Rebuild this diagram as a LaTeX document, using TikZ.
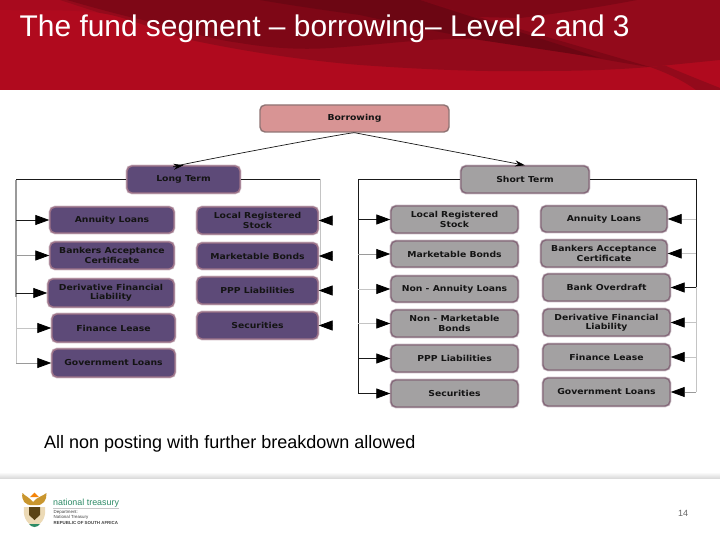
\documentclass[tikz,border=0pt]{standalone}
\usepackage{fontspec}
\setmainfont{Liberation Sans}
\newfontfamily\boxfont[FakeStretch=1.13]{DejaVu Sans}
\usetikzlibrary{arrows.meta}
\definecolor{hdr}{HTML}{B00A1E}
\definecolor{hdrsoft}{HTML}{A80A1E}
\definecolor{hdrmid}{HTML}{930A1B}
\definecolor{hdrdark}{HTML}{7E0716}
\definecolor{hdrdeep}{HTML}{6C0613}
\definecolor{lgfill}{HTML}{5D4A78}
\definecolor{lgedge}{HTML}{9C7288}
\definecolor{stfill}{HTML}{A3A1A2}
\definecolor{stedge}{HTML}{85697A}
\definecolor{rootfill}{HTML}{D89494}
\definecolor{rootedge}{HTML}{8F7474}
\definecolor{ntgreen}{HTML}{2E8B66}
\definecolor{gold}{HTML}{C9962E}
\definecolor{wire}{HTML}{1A1A1A}
\definecolor{wiregray}{HTML}{9A9A9A}
\definecolor{wirelight}{HTML}{C4C4C4}
\tikzset{
  basebox/.style={rounded corners=5pt,align=center,inner sep=0pt,
    font=\boxfont\bfseries\fontsize{8.2}{9.2}\selectfont,text=black!92,line width=1.4pt},
  lgbox/.style={basebox,draw=lgedge,fill=lgfill,preaction={draw=lgedge!45,line width=2.8pt}},
  stbox/.style={basebox,draw=stedge,fill=stfill,preaction={draw=stedge!40,line width=2.8pt}},
  rootbox/.style={basebox,draw=rootedge,fill=rootfill},
  trunk/.style={line width=0.8pt,draw=wire},
  feed/.style={line width=0.8pt,draw=wire,-{Triangle[length=14pt,width=10pt,color=black]}},
  feedgray/.style={feed,draw=wiregray},
  feedlight/.style={feed,draw=wirelight},
  top/.style={line width=0.7pt,draw=wire,-{Stealth[length=10pt,width=6pt,color=black]}},
}
\newcommand{\bx}[7]{\node[#2,minimum width=#5pt-#3pt,minimum height=#6pt-#4pt] (#1) at ({(#3+#5)/2},{(#4+#6)/2}) {#7};}
\begin{document}
\begin{tikzpicture}[x=1pt,y=-1pt]
\useasboundingbox (0,0) rectangle (720,540);
\fill[white] (0,0) rectangle (720,540);
% header
\fill[hdr] (0,0) rectangle (720,90);
\fill[hdrsoft] (0,0) -- (0,10) .. controls (40,10) and (80,10) .. (100,13) -- (150,0) -- cycle;
\fill[hdrmid] (60,0) -- (100,13) .. controls (130,17) and (165,35) .. (200,42) .. controls (250,52) and (300,60) .. (360,65) .. controls (430,70) and (490,72) .. (543,71) .. controls (590,71) and (625,69) .. (650,67) .. controls (680,64) and (700,62) .. (720,60) -- (720,0) -- cycle;
\fill[hdrdark] (67,0) .. controls (95,8) and (120,15) .. (143,20) .. controls (180,30) and (215,40) .. (240,43) .. controls (270,48) and (300,50) .. (330,48) .. controls (390,44) and (440,36) .. (490,40) .. controls (540,46) and (600,60) .. (650,67) -- (420,0) -- cycle;
\fill[hdrdark] (420,0) -- (637,0) .. controls (605,6) and (570,12) .. (520,18) -- (478,17) -- cycle;
\fill[hdrdeep] (260,0) .. controls (295,6) and (330,11) .. (360,15) .. controls (400,24) and (440,32) .. (480,40) .. controls (520,46) and (560,52) .. (600,58) .. controls (540,38) and (480,20) .. (420,0) -- cycle;
\fill[hdrmid] (650,67) .. controls (670,74) and (685,82) .. (696,90) -- (720,90) -- (720,88) .. controls (700,80) and (680,72) .. (665,65.5) -- cycle;
\node[anchor=west,text=white,inner sep=0pt,font=\fontsize{29.9}{32}\selectfont] (title) at (19.5,29) {The fund segment – borrowing– Level 2 and 3};
% boxes
\bx{root}{rootbox}{260}{105}{449}{132}{Borrowing}
\bx{lt}{lgbox}{127}{166}{240}{193}{Long Term}
\bx{st}{stbox}{461}{166}{589}{193}{Short Term}
\bx{la}{lgbox}{50}{207}{174}{233}{Annuity Loans}
\bx{lb}{lgbox}{50}{242}{174}{269}{Bankers Acceptance\\Certificate}
\bx{lc}{lgbox}{48}{279}{174}{307}{Derivative Financial\\Liability}
\bx{ld}{lgbox}{52}{314}{175}{342}{Finance Lease}
\bx{le}{lgbox}{52}{349}{175}{377}{Government Loans}
\bx{lf}{lgbox}{197}{207}{318}{234}{Local Registered\\Stock}
\bx{lg}{lgbox}{197}{243}{318}{269}{Marketable Bonds}
\bx{lh}{lgbox}{197}{277}{318}{304}{PPP Liabilities}
\bx{li}{lgbox}{197}{312}{318}{339}{Securities}
\bx{sa}{stbox}{391}{206}{518}{233}{Local Registered\\Stock}
\bx{sb}{stbox}{391}{241}{518}{267}{Marketable Bonds}
\bx{sc}{stbox}{391}{276}{518}{302}{Non - Annuity Loans}
\bx{sd}{stbox}{391}{310}{518}{337}{Non - Marketable\\Bonds}
\bx{se}{stbox}{391}{345}{518}{372}{PPP Liabilities}
\bx{sf}{stbox}{391}{380}{518}{407}{Securities}
\bx{sg}{stbox}{541}{206}{667}{232}{Annuity Loans}
\bx{sh}{stbox}{541}{240}{667}{267}{Bankers Acceptance\\Certificate}
\bx{si}{stbox}{543}{274}{670}{301}{Bank Overdraft}
\bx{sj}{stbox}{543}{309}{670}{336}{Derivative Financial\\Liability}
\bx{sk}{stbox}{543}{344}{670}{370}{Finance Lease}
\bx{sl}{stbox}{543}{378}{670}{406}{Government Loans}
% trunk ends
\coordinate (ltl) at (16,363);
\coordinate (ltlm) at (16,297);
\coordinate (ltr) at (320,325);
\coordinate (stl) at (358,393);
\coordinate (str) at (696,392);
\coordinate (strm) at (696,287);
% connectors
\draw[top] (root.south) .. controls +(-8,0) and +(-40,6) .. (lt.north);
\draw[top] (root.south) -- (st.north);
\draw[line width=0.8pt,draw=wirelight] (ltlm) -- (ltl);
\draw[line width=1.5pt,draw=wiregray] (16,180) -- (ltlm);
\draw[trunk] (lt.west) -- (16,179.5);
\draw[trunk] (lt.east) -- (320,179.5);
\draw[line width=0.8pt,draw=wirelight] (320,179.5) -- (ltr);
\draw[trunk] (st.west) -| (stl);
\draw[trunk] (st.east) -| (strm);
\draw[line width=0.8pt,draw=wirelight] (strm) -- (str);
\draw[feed] (ltl |- la.west) -- (la.west);
\draw[feedgray] (ltl |- lb.west) -- (lb.west);
\draw[feed] (ltl |- lc.west) -- (lc.west);
\draw[feedlight] (ltl |- ld.west) -- (ld.west);
\draw[feedgray] (ltl |- le.west) -- (le.west);
\draw[feedlight] (ltr |- lf.east) -- (lf.east);
\draw[feedlight] (ltr |- lg.east) -- (lg.east);
\draw[feedlight] (ltr |- lh.east) -- (lh.east);
\draw[feedlight] (ltr |- li.east) -- (li.east);
\draw[feed] (stl |- sa.west) -- (sa.west);
\draw[feedgray] (stl |- sb.west) -- (sb.west);
\draw[feedlight] (stl |- sc.west) -- (sc.west);
\draw[feedlight] (stl |- sd.west) -- (sd.west);
\draw[feed] (stl |- se.west) -- (se.west);
\draw[feed] (stl |- sf.west) -- (sf.west);
\draw[feedlight] (str |- sg.east) -- (sg.east);
\draw[feedlight] (str |- sh.east) -- (sh.east);
\draw[feed] (str |- si.east) -- (si.east);
\draw[feedlight] (str |- sj.east) -- (sj.east);
\draw[feedlight] (str |- sk.east) -- (sk.east);
\draw[feedgray] (str |- sl.east) -- (sl.east);
% caption
\node[anchor=west,inner sep=0pt,text=black,font=\fontsize{18}{20}\selectfont] (cap) at (44,443.5) {All non posting with further breakdown allowed};
% footer
\shade[top color=white,bottom color=black!14] (0,472) rectangle (720,478);
% emblem
\fill[gold] (33,505) .. controls (25,506) and (21,500) .. (22.5,493) .. controls (25,496) and (29,497) .. (33,502) .. controls (37,497) and (43,496) .. (46.5,493) .. controls (47,500) and (43,506) .. (36,505) -- cycle;
\fill[orange!80!gold] (30,497) -- (34.5,492.5) -- (39,497) -- cycle;
\fill[gold!35!white] (24,507) .. controls (23,515) and (25,523) .. (34.5,527) .. controls (44,523) and (46,515) .. (45,507) -- cycle;
\fill[black!55!gold] (29,507) -- (40,507) -- (40,515) -- (34.5,520) -- (29,515) -- cycle;
\fill[ntgreen] (29,524) .. controls (32,528) and (37,528) .. (40,524) -- cycle;
\node[anchor=west,inner sep=0pt,text=ntgreen,font=\fontsize{8.9}{10}\selectfont] (nt) at (53,503) {national treasury};
\draw[black!22,line width=0.5pt] (53,508.5) -- (119,508.5);
\node[anchor=north west,inner sep=0pt,align=left,text=black!75,font=\fontsize{4.4}{5.5}\selectfont] (dept) at (53.5,510) {Department:\\National Treasury\\\textbf{REPUBLIC OF SOUTH AFRICA}};
\node[inner sep=0pt,text=black!60,font=\fontsize{9}{10}\selectfont] (pg) at (683,513.5) {14};
\end{tikzpicture}
\end{document}
